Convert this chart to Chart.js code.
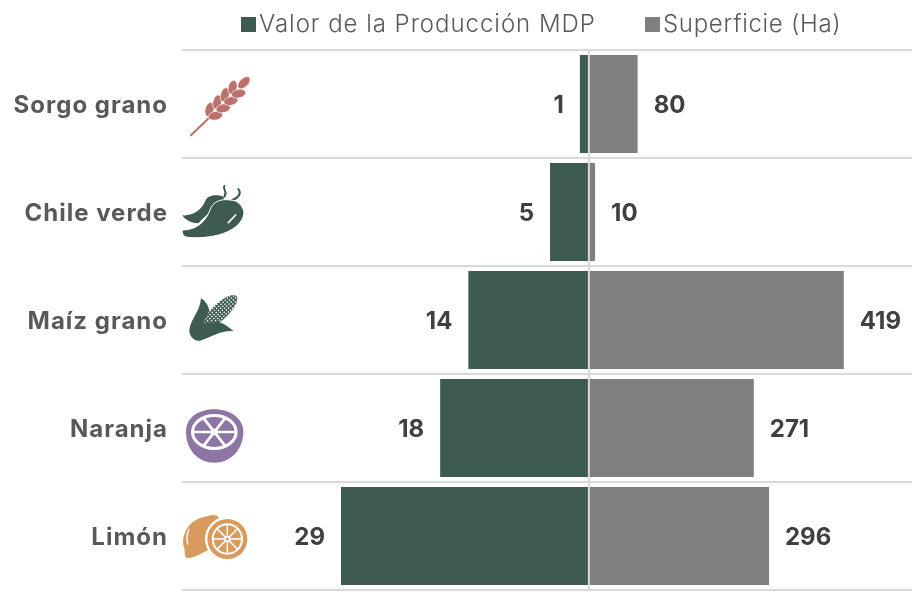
<!DOCTYPE html>
<html><head><meta charset="utf-8">
<style>html,body{margin:0;padding:0;background:#fff}#w{width:916px;height:596px}</style>
<script src="https://cdn.jsdelivr.net/npm/chart.js@4/dist/chart.umd.min.js"></script>
</head><body><div id="w"><canvas id="c" width="916" height="596"></canvas></div>
<script>
const categories = ["Sorgo grano","Chile verde","Maíz grano","Naranja","Limón"];
const valorProduccion = [1.05,4.55,14.1,17.4,29];
const valorLabels = ["1","5","14","18","29"];
const superficie = [80,10,419,271,296];
const superficieLabels = ["80","10","419","271","296"];
const seriesNames = ["Valor de la Producción MDP","Superficie (Ha)"];
const seriesColors = ["#3d5c4f","#7f7f7f"];
const FONT = "Inter";

function ell(c,x,y,rx,ry,rot){c.beginPath();c.ellipse(x,y,rx,ry,rot||0,0,Math.PI*2);c.fill();}
function spokes(c,x,y,r,ry,angles,w){c.strokeStyle="#fff";c.lineWidth=w;angles.forEach(a=>{c.beginPath();c.moveTo(x-r*Math.cos(a),y-ry*Math.sin(a));c.lineTo(x+r*Math.cos(a),y+ry*Math.sin(a));c.stroke();});}

const icons = [
 function wheat(c){ c.translate(0,-132);
  const col="#bb716c"; c.fillStyle=col;c.strokeStyle=col;c.lineWidth=6;c.lineCap="round";
  c.beginPath();c.moveTo(48,226);c.lineTo(104,172);c.stroke();
  const ax=0.72,ay=-0.69,px=0.69,py=0.72;
  [12,44,76,108].forEach(t=>{[-1,1].forEach(s=>{
    const x=104+ax*t+s*px*13,y=166+ay*t+s*py*13;
    c.save();c.strokeStyle="#fff";c.lineWidth=2;c.beginPath();
    c.ellipse(x,y,22,13,Math.atan2(ay,ax)+s*0.55,0,Math.PI*2);c.fill();c.stroke();c.restore();
  });});
  c.save();c.strokeStyle="#fff";c.lineWidth=2;c.beginPath();c.ellipse(207,68,23,13,Math.atan2(ay,ax),0,Math.PI*2);c.fill();c.stroke();c.restore();
 },
 function chile(c){ c.translate(0,-456);
  const col="#3d5c4f"; c.fillStyle=col;c.strokeStyle=col;c.lineCap="round";c.lineWidth=6;
  c.beginPath();c.moveTo(148,378);c.bezierCurveTo(142,390,160,395,148,410);c.stroke();
  c.beginPath();c.moveTo(190,387);c.bezierCurveTo(200,400,192,412,172,420);c.stroke();
  c.fill(new Path2D("M22,466 C55,468 80,450 92,420 C100,405 125,402 145,410 L150,430 C120,440 90,470 70,490 C50,490 30,480 22,466 Z"));
  const f=new Path2D("M22,510 C60,510 90,490 105,450 C112,425 140,415 165,420 C190,420 205,440 207,458 C205,490 170,515 130,525 C90,535 50,535 30,530 C22,525 20,515 22,510 Z");
  c.fill(f);c.strokeStyle="#fff";c.lineWidth=3;c.stroke(f);
  c.lineWidth=5;c.beginPath();c.moveTo(182,465);c.lineTo(160,488);c.stroke();
 },
 function corn(c){ c.translate(0,-120);
  const col="#3d5c4f"; c.fillStyle=col;
  c.save();c.translate(135,95);c.rotate(-0.76);
  c.beginPath();c.ellipse(0,0,68,24,0,0,Math.PI*2);c.fill();c.clip();
  c.fillStyle="#fff";
  for(let x=-66;x<70;x+=9)for(let y=-24;y<26;y+=8){c.fillRect(x,y,4.5,4);}
  c.restore();
  c.fillStyle=col;
  c.fill(new Path2D("M78,55 C90,62 100,75 103,92 L84,128 L130,126 C145,130 160,140 175,153 C140,150 110,170 75,182 C55,185 42,165 43,150 C48,115 75,95 78,55 Z"));
 },
 function orange(c){ c.translate(0,-444);
  const col="#8e76a4"; c.fillStyle=col;
  c.fill(new Path2D("M33,455 C33,410 75,388 118,388 C165,388 205,415 205,455 C205,510 165,548 118,548 C70,548 33,510 33,455 Z"));
  c.fillStyle="#fff";ell(c,118,456,70,54);
  c.fillStyle=col;ell(c,118,456,61,45);
  spokes(c,118,456,66,49,[0,Math.PI/3,2*Math.PI/3],8);
  c.fillStyle="#fff";ell(c,118,456,11,10);
 },
 function lemon(c){ c.translate(0,-768);
  const col="#d99a5e"; c.fillStyle=col;
  c.fill(new Path2D("M40,740 C55,718 85,710 100,708 C115,703 128,705 132,715 L140,790 L70,825 C60,830 40,838 32,832 C28,825 30,815 28,805 C20,785 25,760 40,740 Z"));
  c.strokeStyle="#fff";c.lineWidth=4;c.lineCap="round";
  c.beginPath();c.moveTo(42,748);c.bezierCurveTo(35,762,35,780,38,792);c.stroke();
  c.fillStyle="#fff";ell(c,157,777,67,67);
  c.fillStyle=col;ell(c,157,777,60,60);
  c.fillStyle="#fff";ell(c,157,777,47,47);
  c.fillStyle=col;ell(c,157,777,41,41);
  spokes(c,157,777,44,44,[0,Math.PI/4,Math.PI/2,3*Math.PI/4],4.5);
  c.fillStyle="#fff";ell(c,157,777,10,10);
  c.fillStyle=col;ell(c,157,777,4.5,4.5);
 }
];

const decor = {
 id:"decor",
 beforeDraw(chart){ chart.ctx.letterSpacing="1px"; },
 afterDatasetsDraw(chart){
  const c=chart.ctx, area=chart.chartArea;
  const x0=chart.scales.xL.getPixelForValue(0);
  c.save();c.strokeStyle="#d9d9d9";c.lineWidth=2;
  c.beginPath();c.moveTo(x0,area.top);c.lineTo(x0,area.bottom);c.stroke();c.restore();
  c.save();c.letterSpacing="0px";c.font="700 24px "+FONT;c.fillStyle="#404040";c.textBaseline="middle";
  chart.getDatasetMeta(0).data.forEach((b,i)=>{c.textAlign="right";c.fillText(valorLabels[i],b.x-16,b.y+2);});
  chart.getDatasetMeta(1).data.forEach((b,i)=>{c.textAlign="left";c.fillText(superficieLabels[i],b.x+16,b.y+2);});
  c.restore();
  categories.forEach((n,i)=>{
   const y=chart.scales.y.getPixelForValue(i);
   c.save();c.translate(175,y);c.scale(1/3,1/3);icons[i](c);c.restore();
  });
  c.save();c.font="300 24px "+FONT;c.textBaseline="middle";c.textAlign="left";
  const lx=[241,645], ls=["0.97px","0.7px"];
  seriesNames.forEach((n,i)=>{
   c.fillStyle=seriesColors[i];c.fillRect(lx[i],17,15,15);
   c.letterSpacing=ls[i];
   c.fillStyle="#595959";c.fillText(n,lx[i]+18,24.5);
  });
  c.restore();
 }
};

new Chart(document.getElementById("c"),{
 type:"bar",
 data:{labels:categories,datasets:[
  {label:seriesNames[0],data:valorProduccion,xAxisID:"xL",backgroundColor:seriesColors[0],grouped:false,barPercentage:0.907,categoryPercentage:1},
  {label:seriesNames[1],data:superficie,xAxisID:"xR",backgroundColor:seriesColors[1],grouped:false,barPercentage:0.907,categoryPercentage:1}
 ]},
 options:{
  indexAxis:"y",responsive:false,animation:false,
  layout:{padding:{top:50,bottom:6,right:4,left:0}},
  plugins:{legend:{display:false},tooltip:{enabled:false}},
  scales:{
   xL:{type:"linear",position:"top",reverse:true,min:-37.8,max:47.6,display:false},
   xR:{type:"linear",position:"bottom",min:-669.4,max:531.2,display:false},
   y:{offset:true,border:{display:false},
      grid:{color:"#d9d9d9",lineWidth:2,drawTicks:false,offset:true},
      afterFit(s){s.width=182;s.paddingTop=0;s.paddingBottom=0;},
      ticks:{color:"#595959",font:{family:FONT,weight:"700",size:24},padding:14,crossAlign:"near",labelOffset:1.5}}
  }
 },
 plugins:[decor]
});
</script></body></html>
